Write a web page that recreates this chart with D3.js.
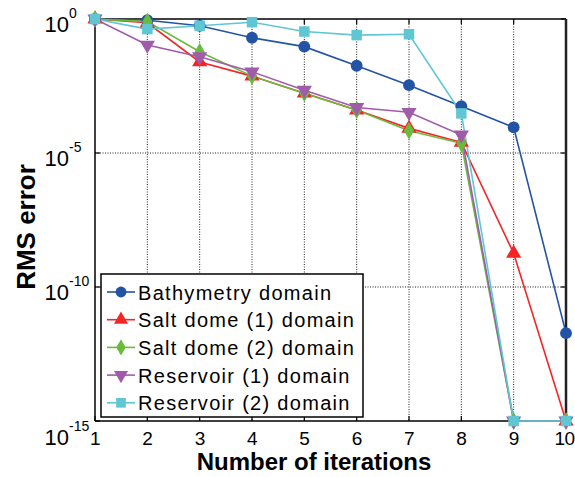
<!DOCTYPE html>
<html>
<head>
<meta charset="utf-8">
<script src="https://cdn.jsdelivr.net/npm/d3@7"></script>
<style>
  body { margin: 0; background: #fff; }
  svg { font-family: "Liberation Sans", Arial, sans-serif; }
</style>
</head>
<body>
<svg id="chart" width="575" height="477"></svg>
<script>
// iterations on the x axis
var iterations = [1, 2, 3, 4, 5, 6, 7, 8, 9, 10]

// RMS error per domain
var bathymetry = [1, 0.9, 0.56, 0.2, 0.093, 0.018, 0.0034, 5.6e-4, 9.1e-5, 1.9e-12]
var saltDome1 = [1, 0.72, 0.025, 0.0074, 0.0017, 4e-4, 8.3e-5, 2.5e-5, 1.8e-9, 1e-15]
var saltDome2 = [1, 0.8, 0.06, 0.0074, 0.0017, 4e-4, 6.8e-5, 2.3e-5, 1e-15, 1e-15]
var reservoir1 = [1, 0.107, 0.039, 0.0107, 0.0022, 5e-4, 3.3e-4, 4.7e-5, 1e-15, 1e-15]
var reservoir2 = [1, 0.42, 0.56, 0.76, 0.34, 0.25, 0.27, 3e-4, 1e-15, 1e-15]

var seriesNames = ["Bathymetry domain", "Salt dome (1) domain", "Salt dome (2) domain",
                   "Reservoir (1) domain", "Reservoir (2) domain"]
var yTickExponents = [0, -5, -10, -15]

var dimensions = {
    width: 575,
    height: 477,
    margin: { top: 19, bottom: 56, right: 9, left: 95 }
}

var series = [
    { name: seriesNames[0], values: bathymetry, color: "#2353a5", symbol: d3.symbolCircle, size: 110 },
    { name: seriesNames[1], values: saltDome1, color: "#f42525", symbol: d3.symbolTriangle, size: 100 },
    { name: seriesNames[2], values: saltDome2, color: "#69bb3c", symbol: d3.symbolDiamond, size: 90 },
    { name: seriesNames[3], values: reservoir1, color: "#a05cab", symbol: d3.symbolTriangle, size: 100, flip: true },
    { name: seriesNames[4], values: reservoir2, color: "#5ec7d3", symbol: d3.symbolSquare, size: 110 }
]

var svg = d3.select("#chart")

var xScale = d3.scaleLinear()
    .domain([1, 10])
    .range([dimensions.margin.left, dimensions.width - dimensions.margin.right])

var yScale = d3.scaleLog()
    .domain([1e-15, 1])
    .range([dimensions.height - dimensions.margin.bottom, dimensions.margin.top])

var x0 = xScale.range()[0], x1 = xScale.range()[1]
var yTop = yScale.range()[1], yBot = yScale.range()[0]

// dotted grid
var grid = svg.append("g")
grid.selectAll(".vgrid")
    .data(iterations.slice(1, -1))
    .enter()
    .append("line")
    .attr("x1", d => xScale(d)).attr("x2", d => xScale(d))
    .attr("y1", yTop).attr("y2", yBot)
    .attr("stroke", "#222")
    .attr("stroke-width", 1)
    .attr("stroke-dasharray", "1,1.5")
grid.selectAll(".hgrid")
    .data(yTickExponents.slice(1, -1))
    .enter()
    .append("line")
    .attr("y1", d => yScale(Math.pow(10, d))).attr("y2", d => yScale(Math.pow(10, d)))
    .attr("x1", x0).attr("x2", x1)
    .attr("stroke", "#222")
    .attr("stroke-width", 1)
    .attr("stroke-dasharray", "1,1.5")

// inward ticks on all four sides
var ticks = svg.append("g").attr("stroke", "#000").attr("stroke-width", 1.2)
iterations.forEach(function (d) {
    ticks.append("line").attr("x1", xScale(d)).attr("x2", xScale(d)).attr("y1", yBot).attr("y2", yBot - 5)
    ticks.append("line").attr("x1", xScale(d)).attr("x2", xScale(d)).attr("y1", yTop).attr("y2", yTop + 5)
})
yTickExponents.forEach(function (e) {
    var y = yScale(Math.pow(10, e))
    ticks.append("line").attr("x1", x0).attr("x2", x0 + 5).attr("y1", y).attr("y2", y)
    ticks.append("line").attr("x1", x1).attr("x2", x1 - 5).attr("y1", y).attr("y2", y)
})

// box
svg.append("line").attr("x1", x0).attr("x2", x1).attr("y1", yTop).attr("y2", yTop)
    .attr("stroke", "#000").attr("stroke-width", 1.5)
svg.append("line").attr("x1", x0).attr("x2", x1).attr("y1", yBot).attr("y2", yBot)
    .attr("stroke", "#000").attr("stroke-width", 1.5)
svg.append("line").attr("x1", x0).attr("x2", x0).attr("y1", yTop).attr("y2", yBot)
    .attr("stroke", "#000").attr("stroke-width", 1.5)
svg.append("line").attr("x1", x1).attr("x2", x1).attr("y1", yTop).attr("y2", yBot)
    .attr("stroke", "#222").attr("stroke-width", 2.5)

// x tick labels
svg.append("g")
    .selectAll("text")
    .data(iterations)
    .enter()
    .append("text")
    .attr("x", d => Math.min(xScale(d), 564.5))
    .attr("y", yBot + 24)
    .attr("text-anchor", "middle")
    .attr("font-size", "19px")
    .attr("letter-spacing", "-0.5px")
    .text(d => d)

// y tick labels 10^e
var yLabels = svg.append("g")
yTickExponents.forEach(function (e, i) {
    var y = yScale(Math.pow(10, e)) + (i === yTickExponents.length - 1 ? 24 : 13)
    yLabels.append("text")
        .attr("x", 69)
        .attr("y", y)
        .attr("text-anchor", "end")
        .attr("font-size", "22px")
        .text("10")
    yLabels.append("text")
        .attr("x", 69)
        .attr("y", y - 14)
        .attr("font-size", "14px")
        .text(e)
})

// lines and markers
var line = d3.line()
    .x((d, i) => xScale(iterations[i]))
    .y(d => yScale(d))

series.forEach(function (s) {
    svg.append("path")
        .datum(s.values)
        .attr("d", line)
        .attr("fill", "none")
        .attr("stroke", s.color)
        .attr("stroke-width", 1.6)
})
series.forEach(function (s) {
    var sym = d3.symbol().type(s.symbol).size(s.size)
    svg.append("g")
        .selectAll("path")
        .data(s.values)
        .enter()
        .append("path")
        .attr("d", sym)
        .attr("transform", (d, i) => "translate(" + xScale(iterations[i]) + "," + yScale(d) + ")" + (s.flip ? " rotate(180)" : ""))
        .attr("fill", s.color)
})

// legend
var legend = svg.append("g")
legend.append("rect")
    .attr("x", 101).attr("y", 274)
    .attr("width", 262).attr("height", 143)
    .attr("fill", "#fff")
    .attr("stroke", "#000")
    .attr("stroke-width", 1.5)

series.forEach(function (s, i) {
    var y = 292 + i * 27.7
    legend.append("line")
        .attr("x1", 107).attr("x2", 135)
        .attr("y1", y).attr("y2", y)
        .attr("stroke", s.color)
        .attr("stroke-width", 1.6)
    legend.append("path")
        .attr("d", d3.symbol().type(s.symbol).size(s.size * 0.85))
        .attr("transform", "translate(121," + y + ")" + (s.flip ? " rotate(180)" : ""))
        .attr("fill", s.color)
    legend.append("text")
        .attr("x", 138)
        .attr("y", y + 7.5)
        .attr("font-size", "20px")
        .attr("letter-spacing", "1.3px")
        .text(s.name)
})

// axis titles
svg.append("text")
    .attr("x", 314)
    .attr("y", 470)
    .attr("text-anchor", "middle")
    .attr("font-size", "24px")
    .attr("font-weight", "bold")
    .text("Number of iterations")

svg.append("text")
    .attr("transform", "translate(35,227) rotate(-90)")
    .attr("text-anchor", "middle")
    .attr("font-size", "26px")
    .attr("font-weight", "bold")
    .text("RMS error")
</script>
</body>
</html>
